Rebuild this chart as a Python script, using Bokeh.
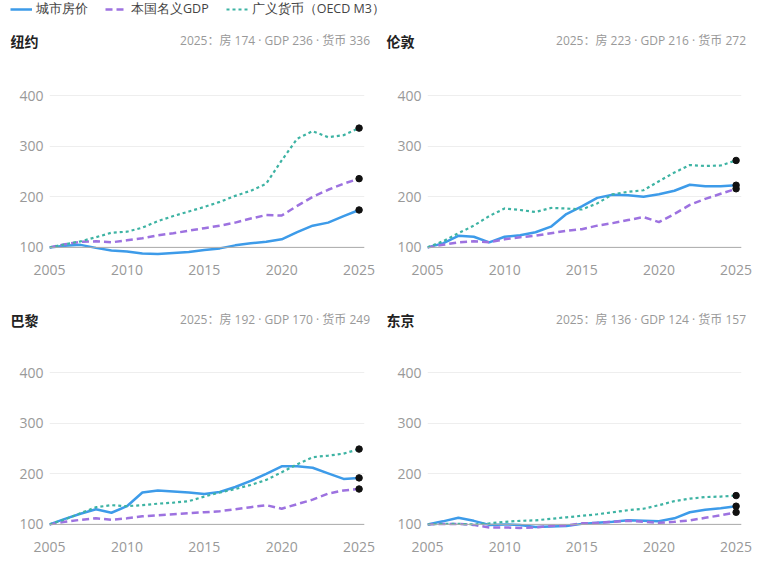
from bokeh.plotting import figure
from bokeh.models import FixedTicker, Legend, LegendItem, Span, Range1d, Div
from bokeh.layouts import column, row
from bokeh.embed import file_html
from bokeh.resources import INLINE

years = list(range(2005, 2026))
x_ticks = [2005, 2010, 2015, 2020, 2025]
y_ticks = [100, 200, 300, 400]
base_level = 100

cities = ["纽约", "伦敦", "巴黎", "东京"]
series_labels = ["城市房价", "本国名义GDP", "广义货币（OECD M3）"]

ny_house = [100, 103, 105, 99, 94, 92, 88, 87, 89, 91, 95, 98, 104, 108, 111, 116, 130, 143, 149, 162, 174]
ny_gdp = [100, 106, 111, 112, 110, 114, 118, 124, 128, 133, 138, 143, 149, 157, 164, 163, 182, 200, 214, 226, 236]
ny_m3 = [100, 106, 112, 120, 129, 131, 139, 152, 162, 171, 180, 190, 202, 212, 226, 272, 315, 330, 318, 322, 336]

ldn_house = [100, 108, 123, 121, 110, 121, 124, 130, 141, 166, 181, 198, 204, 203, 200, 205, 212, 224, 221, 221, 223]
ldn_gdp = [100, 105, 110, 112, 110, 116, 120, 123, 128, 133, 136, 143, 148, 154, 160, 150, 166, 184, 196, 206, 216]
ldn_m3 = [100, 112, 128, 143, 162, 177, 174, 170, 178, 177, 175, 187, 205, 210, 213, 231, 248, 263, 261, 262, 272]

par_house = [100, 111, 121, 130, 123, 136, 163, 167, 165, 163, 160, 164, 174, 186, 200, 215, 215, 212, 201, 190, 192]
par_gdp = [100, 105, 109, 112, 109, 112, 116, 118, 120, 122, 124, 126, 130, 134, 138, 131, 140, 149, 161, 167, 170]
par_m3 = [100, 110, 122, 134, 138, 136, 138, 141, 143, 146, 155, 163, 170, 178, 188, 203, 219, 233, 236, 240, 249]

tky_house = [100, 106, 113, 107, 99, 100, 99, 95, 96, 97, 101, 103, 105, 108, 107, 106, 112, 124, 129, 132, 136]
tky_gdp = [100, 101, 101, 99, 94, 94, 93, 94, 97, 98, 102, 103, 105, 107, 105, 103, 105, 108, 113, 118, 124]
tky_m3 = [100, 101, 101, 100, 102, 105, 107, 108, 111, 114, 117, 120, 124, 128, 131, 138, 146, 151, 154, 155, 157]

COLORS = ["#3d9be9", "#9d72e0", "#3db3a3"]
DASHES = ["solid", "7 4", "3 3"]
WIDTHS = [2.5, 2.5, 2.2]
FONT = "Open Sans"
CJK = "Noto Sans CJK SC"

FH = 188
X_END = 2025.35


def header(name, series, width, height, right_gap):
    last = [s[-1] for s in series]
    sub = f"2025：房 {last[0]} · GDP {last[1]} · 货币 {last[2]}"
    top = height // 2 - 10
    html = (
        f"<div style='position:relative;width:{width}px;height:{height}px;margin:0;padding:0;'>"
        f"<span style=\"position:absolute;left:10.5px;top:{top}px;line-height:20px;"
        f"font-family:'{CJK}';font-size:14px;font-weight:bold;color:#222222;white-space:nowrap;\">{name}</span>"
        f"<span style=\"position:absolute;right:{right_gap}px;top:{top}px;line-height:20px;"
        f"font-family:'{FONT}','{CJK}';font-size:12px;color:#999999;white-space:nowrap;\">{sub}</span>"
        f"</div>"
    )
    return Div(text=html, width=width, height=height, margin=0,
               styles={"margin": "0", "padding": "0"})


def panel(series, fw, bl, br, bt, bb):
    p = figure(title=None, frame_width=fw, frame_height=FH,
               min_border_left=bl, min_border_right=br,
               min_border_top=bt, min_border_bottom=bb,
               x_range=Range1d(2005, X_END), y_range=Range1d(78, 450),
               output_backend="svg", toolbar_location=None,
               outline_line_color=None, background_fill_color="white",
               border_fill_color="white")
    p.xgrid.visible = False
    p.ygrid.grid_line_color = "#eeeeee"
    p.ygrid.grid_line_width = 1
    p.ygrid.ticker = FixedTicker(ticks=y_ticks)
    for ax, ticks in ((p.xaxis[0], x_ticks), (p.yaxis[0], y_ticks)):
        ax.ticker = FixedTicker(ticks=ticks)
        ax.axis_line_color = None
        ax.major_tick_line_color = None
        ax.minor_tick_line_color = None
        ax.major_tick_out = 0
        ax.major_tick_in = 0
        ax.major_label_text_font = FONT
        ax.major_label_text_font_size = "14px"
        ax.major_label_text_color = "#999999"
        ax.major_label_standoff = 6
    p.add_layout(Span(location=base_level, dimension="width",
                      line_color="#aaaaaa", line_width=1))
    for vals, c, d, w in zip(series, COLORS, DASHES, WIDTHS):
        p.line(years, vals, line_color=c, line_dash=d, line_width=w,
               line_join="round", line_cap="butt")
    last = [s[-1] for s in series]
    p.scatter([years[-1]] * len(last), last, size=6.5, color="#111111")
    return p


NY = [ny_house, ny_gdp, ny_m3]
LDN = [ldn_house, ldn_gdp, ldn_m3]
PAR = [par_house, par_gdp, par_m3]
TKY = [tky_house, tky_gdp, tky_m3]

# legend strip: proxy lines use NY data, which lies outside this strip's ranges
lg_fig = figure(width=761, height=22, x_range=Range1d(0, 761), y_range=Range1d(0, 22),
                x_axis_type=None, y_axis_type=None, output_backend="svg", toolbar_location=None,
                min_border=0, outline_line_color=None, title=None)
lg_fig.xgrid.visible = False
lg_fig.ygrid.visible = False
lg_items = []
for lab, vals, c, d, w in zip(series_labels, NY, COLORS, DASHES, WIDTHS):
    r = lg_fig.line(years, vals, line_color=c, line_dash=d, line_width=w)
    lg_items.append(LegendItem(label=lab, renderers=[r]))
lg = Legend(items=lg_items, location=(10, 4.5), orientation="horizontal",
            padding=0, margin=0, spacing=17, glyph_width=22, glyph_height=16,
            label_height=16, label_standoff=4,
            label_text_font=FONT, label_text_font_size="12.5px",
            label_text_color="#444444", label_text_baseline="middle",
            border_line_color=None, background_fill_alpha=0)
lg_fig.add_layout(lg, "center")

h1 = header(cities[0], NY, 376, 38, 6)
h2 = header(cities[1], LDN, 385, 38, 15)
p1 = panel(NY, 315, 49, 12, 10, 42)
p2 = panel(LDN, 314, 51, 20, 10, 42)
h3 = header(cities[2], PAR, 376, 40, 6)
h4 = header(cities[3], TKY, 385, 40, 15)
p3 = panel(PAR, 315, 49, 12, 7, 25)
p4 = panel(TKY, 314, 51, 20, 7, 25)

layout = column(lg_fig,
                row(column(h1, p1), column(h2, p2)),
                row(column(h3, p3), column(h4, p4)))

open("out.html", "w").write(file_html(layout, INLINE))
